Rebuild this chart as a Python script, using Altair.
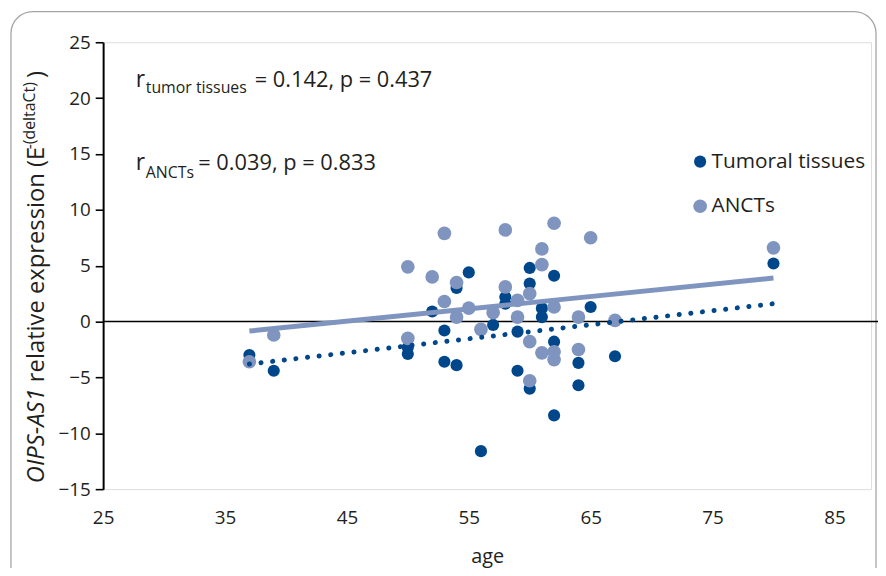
import altair as alt
import pandas as pd

# ---- data ----
tumor_age = [37, 39, 50, 50, 52, 53, 53, 54, 54, 55, 56, 57, 58, 58, 59, 59,
             60, 60, 60, 61, 61, 62, 62, 62, 64, 64, 65, 67, 80]
tumor_val = [-3.0, -4.4, -2.3, -2.9, 0.9, -0.8, -3.6, 3.0, -3.9, 4.4, -11.6, -0.3, 2.2, 1.6, -0.9, -4.4,
             4.8, 3.4, -6.0, 1.2, 0.4, 4.1, -1.8, -8.4, -3.7, -5.7, 1.3, -3.1, 5.2]
anct_age = [37, 39, 50, 50, 52, 53, 53, 54, 54, 55, 56, 57, 58, 58, 59, 59,
            60, 60, 60, 61, 61, 61, 62, 62, 62, 62, 64, 64, 65, 67, 80]
anct_val = [-3.6, -1.2, 4.9, -1.5, 4.0, 7.9, 1.8, 3.5, 0.4, 1.2, -0.7, 0.8, 8.2, 3.1, 1.9, 0.4,
            2.5, -1.8, -5.3, 6.5, 5.1, -2.8, 8.8, 1.3, -2.7, -3.4, 0.4, -2.5, 7.5, 0.1, 6.6]
fit_age = [37, 80]
fit_tumor = [-3.8, 1.6]
fit_anct = [-0.85, 3.9]
series = ["Tumoral tissues", "ANCTs"]
colors = ["#00468b", "#7f95bf"]
x_ticks = [25, 35, 45, 55, 65, 75, 85]
y_ticks = [-15, -10, -5, 0, 5, 10, 15, 20, 25]

FONT = "Open Sans"
TXT = "#231f20"
W, H = 775, 451
PL = 96

pts = pd.DataFrame({
    "age": tumor_age + anct_age,
    "val": tumor_val + anct_val,
    "series": [series[0]] * len(tumor_age) + [series[1]] * len(anct_age),
})
fit_t = pd.DataFrame({"age": fit_age, "val": fit_tumor})
fit_a = pd.DataFrame({"age": fit_age, "val": fit_anct})

xs = alt.Scale(domain=[25, 25 + W / 12.3], nice=False, zero=False)
ys = alt.Scale(domain=[-15, 25], nice=False, zero=False)

X = alt.X("age:Q", scale=xs, title="age",
          axis=alt.Axis(values=x_ticks, domain=False, ticks=False, grid=False, labelFlush=False,
                        labelPadding=20, labelFontSize=19, labelFont=FONT, labelColor=TXT,
                        titleFontSize=20, titleFont=FONT, titleColor=TXT, titleFontWeight="normal",
                        titlePadding=19))
Y = alt.Y("val:Q", scale=ys, title=None,
          axis=alt.Axis(values=y_ticks, grid=False, domainColor="black", domainWidth=2,
                        tickColor="black", tickWidth=1.6, tickSize=8, labelFlush=False,
                        labelPadding=5, labelFontSize=19, labelFont=FONT, labelColor=TXT))

one = pd.DataFrame({"k": [0]})

def txt(s, x, y, size, style="normal", angle=0, color=TXT):
    kw = dict(align="left", baseline="alphabetic", fontSize=size, font=FONT,
              fontStyle=style, color=color)
    if angle:
        kw["angle"] = angle
    return alt.Chart(one).mark_text(**kw).encode(
        x=alt.value(x), y=alt.value(y), text=alt.value(s))

frame = alt.Chart(one).mark_rect(fillOpacity=0, stroke="#a6a6a6", strokeWidth=1.3,
                                 cornerRadius=22).encode(
    x=alt.value(-93), x2=alt.value(W + 5), y=alt.value(-31), y2=alt.value(H + 140))

zero = alt.Chart(one).mark_rule(color="black", strokeWidth=1.5).encode(
    y=alt.datum(0, scale=ys), x=alt.value(0), x2=alt.value(W + 7))

points = alt.Chart(pts).mark_circle(opacity=1).encode(
    x=X, y=Y,
    color=alt.Color("series:N", scale=alt.Scale(domain=series, range=colors),
                    sort=series,
                    legend=alt.Legend(title=None, orient="none", legendX=592, legendY=110,
                                      symbolType="circle", symbolSize=120, symbolStrokeWidth=0,
                                      labelFontSize=21, labelFont=FONT, labelColor=TXT,
                                      labelOffset=1, rowPadding=23, padding=0)),
    size=alt.Size("series:N", scale=alt.Scale(domain=series, range=[150, 190]), legend=None),
    order=alt.Order("ord:Q"),
).transform_calculate(ord="datum.series == 'ANCTs' ? 1 : 0")

line_t = alt.Chart(fit_t).mark_line(color=colors[0], strokeWidth=5, strokeDash=[0.1, 11.7],
                                    strokeCap="round").encode(x=X, y=Y)
line_a = alt.Chart(fit_a).mark_line(color=colors[1], strokeWidth=5).encode(x=X, y=Y)

ann = [
    txt("r", 33, 45, 23),
    txt("tumor tissues", 43, 51, 16),
    txt("= 0.142, p = 0.437", 153, 45, 22),
    txt("r", 33, 129, 23),
    txt("ANCTs", 43, 137, 16),
    txt("= 0.039, p = 0.833", 96, 129, 22),
    # y-axis title pieces (rotated)
    txt("OIPS-AS1", -60, 445, 24, style="italic", angle=270),
    txt("relative expression (E", -60, 343, 24, angle=270),
    txt("-(deltaCt)", -69, 108, 16, angle=270),
    txt(")", -60, 36, 24, angle=270),
]

chart = alt.layer(frame, zero, points, line_t, line_a, *ann).properties(
    width=W, height=H,
    autosize=alt.AutoSizeParams(type="none"),
    padding={"left": PL, "top": 32, "right": 7, "bottom": 77},
).configure_view(stroke=None).configure(font=FONT)

chart.save("out.html", embed_options={"renderer": "svg", "actions": False})
